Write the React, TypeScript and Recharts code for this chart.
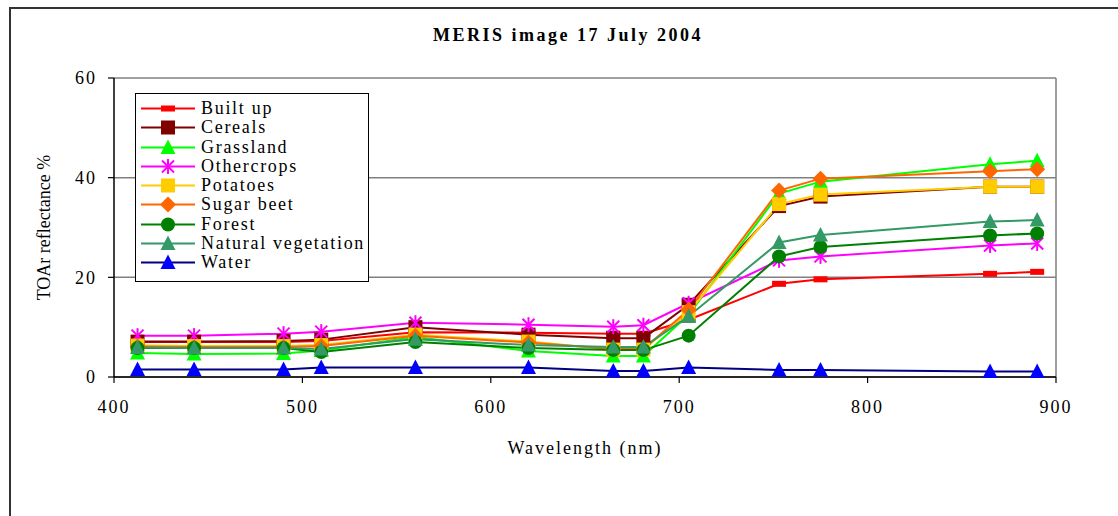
import React from 'react';
import { LineChart, Line, XAxis, YAxis, CartesianGrid, Legend, ReferenceLine } from 'recharts';

const wavelengths = [412.5, 442.5, 490, 510, 560, 620, 665, 681, 705, 753, 775, 865, 890];
const builtUp = [7.0, 7.0, 7.0, 7.2, 9.0, 8.9, 8.7, 8.7, 11.5, 18.7, 19.6, 20.7, 21.1];
const cereals = [7.1, 7.1, 7.2, 7.5, 10.0, 8.5, 7.8, 7.8, 14.5, 34.3, 36.2, 38.2, 38.2];
const grassland = [4.8, 4.6, 4.7, 5.3, 8.0, 5.2, 4.2, 4.2, 12.5, 36.8, 39.2, 42.7, 43.4];
const othercrops = [8.3, 8.3, 8.7, 9.1, 10.9, 10.5, 10.1, 10.4, 14.8, 23.4, 24.2, 26.4, 26.8];
const potatoes = [6.3, 6.2, 6.2, 6.4, 8.5, 7.1, 5.5, 5.5, 13.0, 34.7, 36.6, 38.2, 38.2];
const sugarBeet = [6.1, 6.0, 6.0, 6.2, 8.3, 6.9, 5.6, 5.6, 13.5, 37.4, 39.8, 41.3, 41.7];
const forest = [5.8, 5.8, 5.8, 5.0, 7.0, 5.8, 5.4, 5.4, 8.3, 24.2, 26.1, 28.4, 28.8];
const naturalVeg = [5.9, 5.8, 5.8, 5.6, 7.6, 6.4, 6.0, 6.0, 12.2, 27.0, 28.5, 31.2, 31.5];
const water = [1.5, 1.5, 1.5, 1.9, 1.9, 1.9, 1.2, 1.2, 1.9, 1.4, 1.4, 1.1, 1.1];

const xTicks = [400, 500, 600, 700, 800, 900];
const yTicks = [0, 20, 40, 60];

const seriesDefs = [
  { key: 'builtUp', name: 'Built up', values: builtUp, stroke: '#FF0000', fill: '#FF0000', marker: 'dash' },
  { key: 'cereals', name: 'Cereals', values: cereals, stroke: '#800000', fill: '#800000', marker: 'square' },
  { key: 'grassland', name: 'Grassland', values: grassland, stroke: '#00FF00', fill: '#00FF00', marker: 'triangle' },
  { key: 'othercrops', name: 'Othercrops', values: othercrops, stroke: '#FF00FF', fill: '#FF00FF', marker: 'star' },
  { key: 'potatoes', name: 'Potatoes', values: potatoes, stroke: '#FFCC00', fill: '#FFCC00', marker: 'square' },
  { key: 'sugarBeet', name: 'Sugar beet', values: sugarBeet, stroke: '#FF6600', fill: '#FF6600', marker: 'diamond' },
  { key: 'forest', name: 'Forest', values: forest, stroke: '#008000', fill: '#008000', marker: 'circle' },
  { key: 'naturalVeg', name: 'Natural vegetation', values: naturalVeg, stroke: '#339966', fill: '#339966', marker: 'triangle' },
  { key: 'water', name: 'Water', values: water, stroke: '#000080', fill: '#0000FF', marker: 'triangle' },
];

const data = wavelengths.map((wl, i) => {
  const row: any = { wl };
  seriesDefs.forEach((s) => { row[s.key] = s.values[i]; });
  return row;
});

const FONT = '"Liberation Serif", "Times New Roman", serif';

function Marker({ kind, cx, cy, fill }: { kind: string; cx: number; cy: number; fill: string }) {
  switch (kind) {
    case 'dash':
      return <rect x={cx - 7} y={cy - 3} width={14} height={6} fill={fill} />;
    case 'square':
      return <rect x={cx - 7} y={cy - 7} width={14} height={14} fill={fill} />;
    case 'triangle':
      return <polygon points={`${cx},${cy - 8} ${cx - 7.5},${cy + 6.5} ${cx + 7.5},${cy + 6.5}`} fill={fill} />;
    case 'diamond':
      return <polygon points={`${cx},${cy - 8} ${cx + 8},${cy} ${cx},${cy + 8} ${cx - 8},${cy}`} fill={fill} />;
    case 'circle':
      return <circle cx={cx} cy={cy} r={7} fill={fill} />;
    case 'star':
      return (
        <g stroke={fill} strokeWidth={2}>
          <line x1={cx - 6} y1={cy - 6} x2={cx + 6} y2={cy + 6} />
          <line x1={cx - 6} y1={cy + 6} x2={cx + 6} y2={cy - 6} />
          <line x1={cx} y1={cy - 7.5} x2={cx} y2={cy + 7.5} />
        </g>
      );
    default:
      return null;
  }
}

const renderLegend = (props: any) => {
  const names = new Set((props.payload || []).map((e: any) => e.value));
  return (
    <div
      style={{
        border: '1px solid #000',
        background: '#fff',
        width: 232,
        paddingTop: 5,
        paddingBottom: 9,
        fontFamily: FONT,
        fontSize: 18,
        letterSpacing: 1.7,
        color: '#000',
        boxSizing: 'content-box',
      }}
    >
      {seriesDefs.filter((d) => names.has(d.name)).map((def) => (
        <div key={def.key} style={{ display: 'flex', alignItems: 'center', height: 19.25, whiteSpace: 'nowrap' }}>
          <svg width={62} height={19} style={{ flex: 'none', marginLeft: 3 }}>
            <line x1={2} y1={9.5} x2={56} y2={9.5} stroke={def.stroke} strokeWidth={2} />
            <Marker kind={def.marker} cx={29} cy={9.5} fill={def.fill} />
          </svg>
          <span style={{ lineHeight: '19px' }}>{def.name}</span>
        </div>
      ))}
    </div>
  );
};

export default function App() {
  return (
    <div style={{ position: 'absolute', left: 0, top: 0, width: 1118, height: 516, background: '#fff', overflow: 'hidden' }}>
      <div
        style={{
          position: 'absolute',
          left: 9,
          top: 7,
          width: 1130,
          height: 530,
          borderTop: '2px solid #333',
          borderLeft: '2px solid #333',
        }}
      />
      <div
        style={{
          position: 'absolute',
          left: 0,
          width: 1136,
          top: 25,
          textAlign: 'center',
          fontFamily: FONT,
          fontWeight: 'bold',
          fontSize: 18,
          letterSpacing: 2.5,
          lineHeight: '20px',
          color: '#000',
        }}
      >
        MERIS image 17 July 2004
      </div>
      <div style={{ position: 'absolute', left: 0, top: 0 }}>
        <LineChart
          width={1118}
          height={516}
          data={data}
          margin={{ top: 78, right: 62, bottom: 79, left: 34 }}
          style={{ fontFamily: FONT }}
        >
          <CartesianGrid horizontal vertical={false} stroke="#808080" strokeWidth={1.5} />
          <ReferenceLine x={900} stroke="#808080" strokeWidth={1.5} />
          <XAxis
            type="number"
            dataKey="wl"
            domain={[400, 900]}
            ticks={xTicks}
            allowDataOverflow
            height={60}
            tickSize={6}
            tickMargin={17}
            axisLine={{ stroke: '#000', strokeWidth: 1.5 }}
            tickLine={{ stroke: '#000', strokeWidth: 1.2 }}
            tick={{ fill: '#000', fontSize: 18, fontFamily: FONT, letterSpacing: 2 }}
            label={{
              value: 'Wavelength (nm)',
              position: 'insideTop',
              offset: 64,
              style: { fill: '#000', fontSize: 18, fontFamily: FONT, letterSpacing: 2 },
            }}
          />
          <YAxis
            type="number"
            domain={[0, 60]}
            ticks={yTicks}
            width={80}
            tickSize={6}
            tickMargin={11}
            axisLine={{ stroke: '#000', strokeWidth: 1.5 }}
            tickLine={{ stroke: '#000', strokeWidth: 1.2 }}
            tick={{ fill: '#000', fontSize: 18, fontFamily: FONT, letterSpacing: 2 }}
            label={{
              value: 'TOAr reflectance %',
              angle: -90,
              position: 'insideLeft',
              offset: 10,
              style: { fill: '#000', fontSize: 18, fontFamily: FONT, textAnchor: 'middle' },
            }}
          />
          <Legend
            layout="vertical"
            align="center"
            verticalAlign="middle"
            content={renderLegend}
            wrapperStyle={{ left: 135, top: 93, width: 234, height: 190 }}
          />
          {seriesDefs.map((s) => (
            <Line
              key={s.key}
              type="linear"
              dataKey={s.key}
              name={s.name}
              stroke={s.stroke}
              strokeWidth={2}
              isAnimationActive={false}
              activeDot={false}
              dot={(p: any) => (
                <Marker key={`${s.key}-${p.index}`} kind={s.marker} cx={p.cx} cy={p.cy} fill={s.fill} />
              )}
            />
          ))}
        </LineChart>
      </div>
    </div>
  );
}
